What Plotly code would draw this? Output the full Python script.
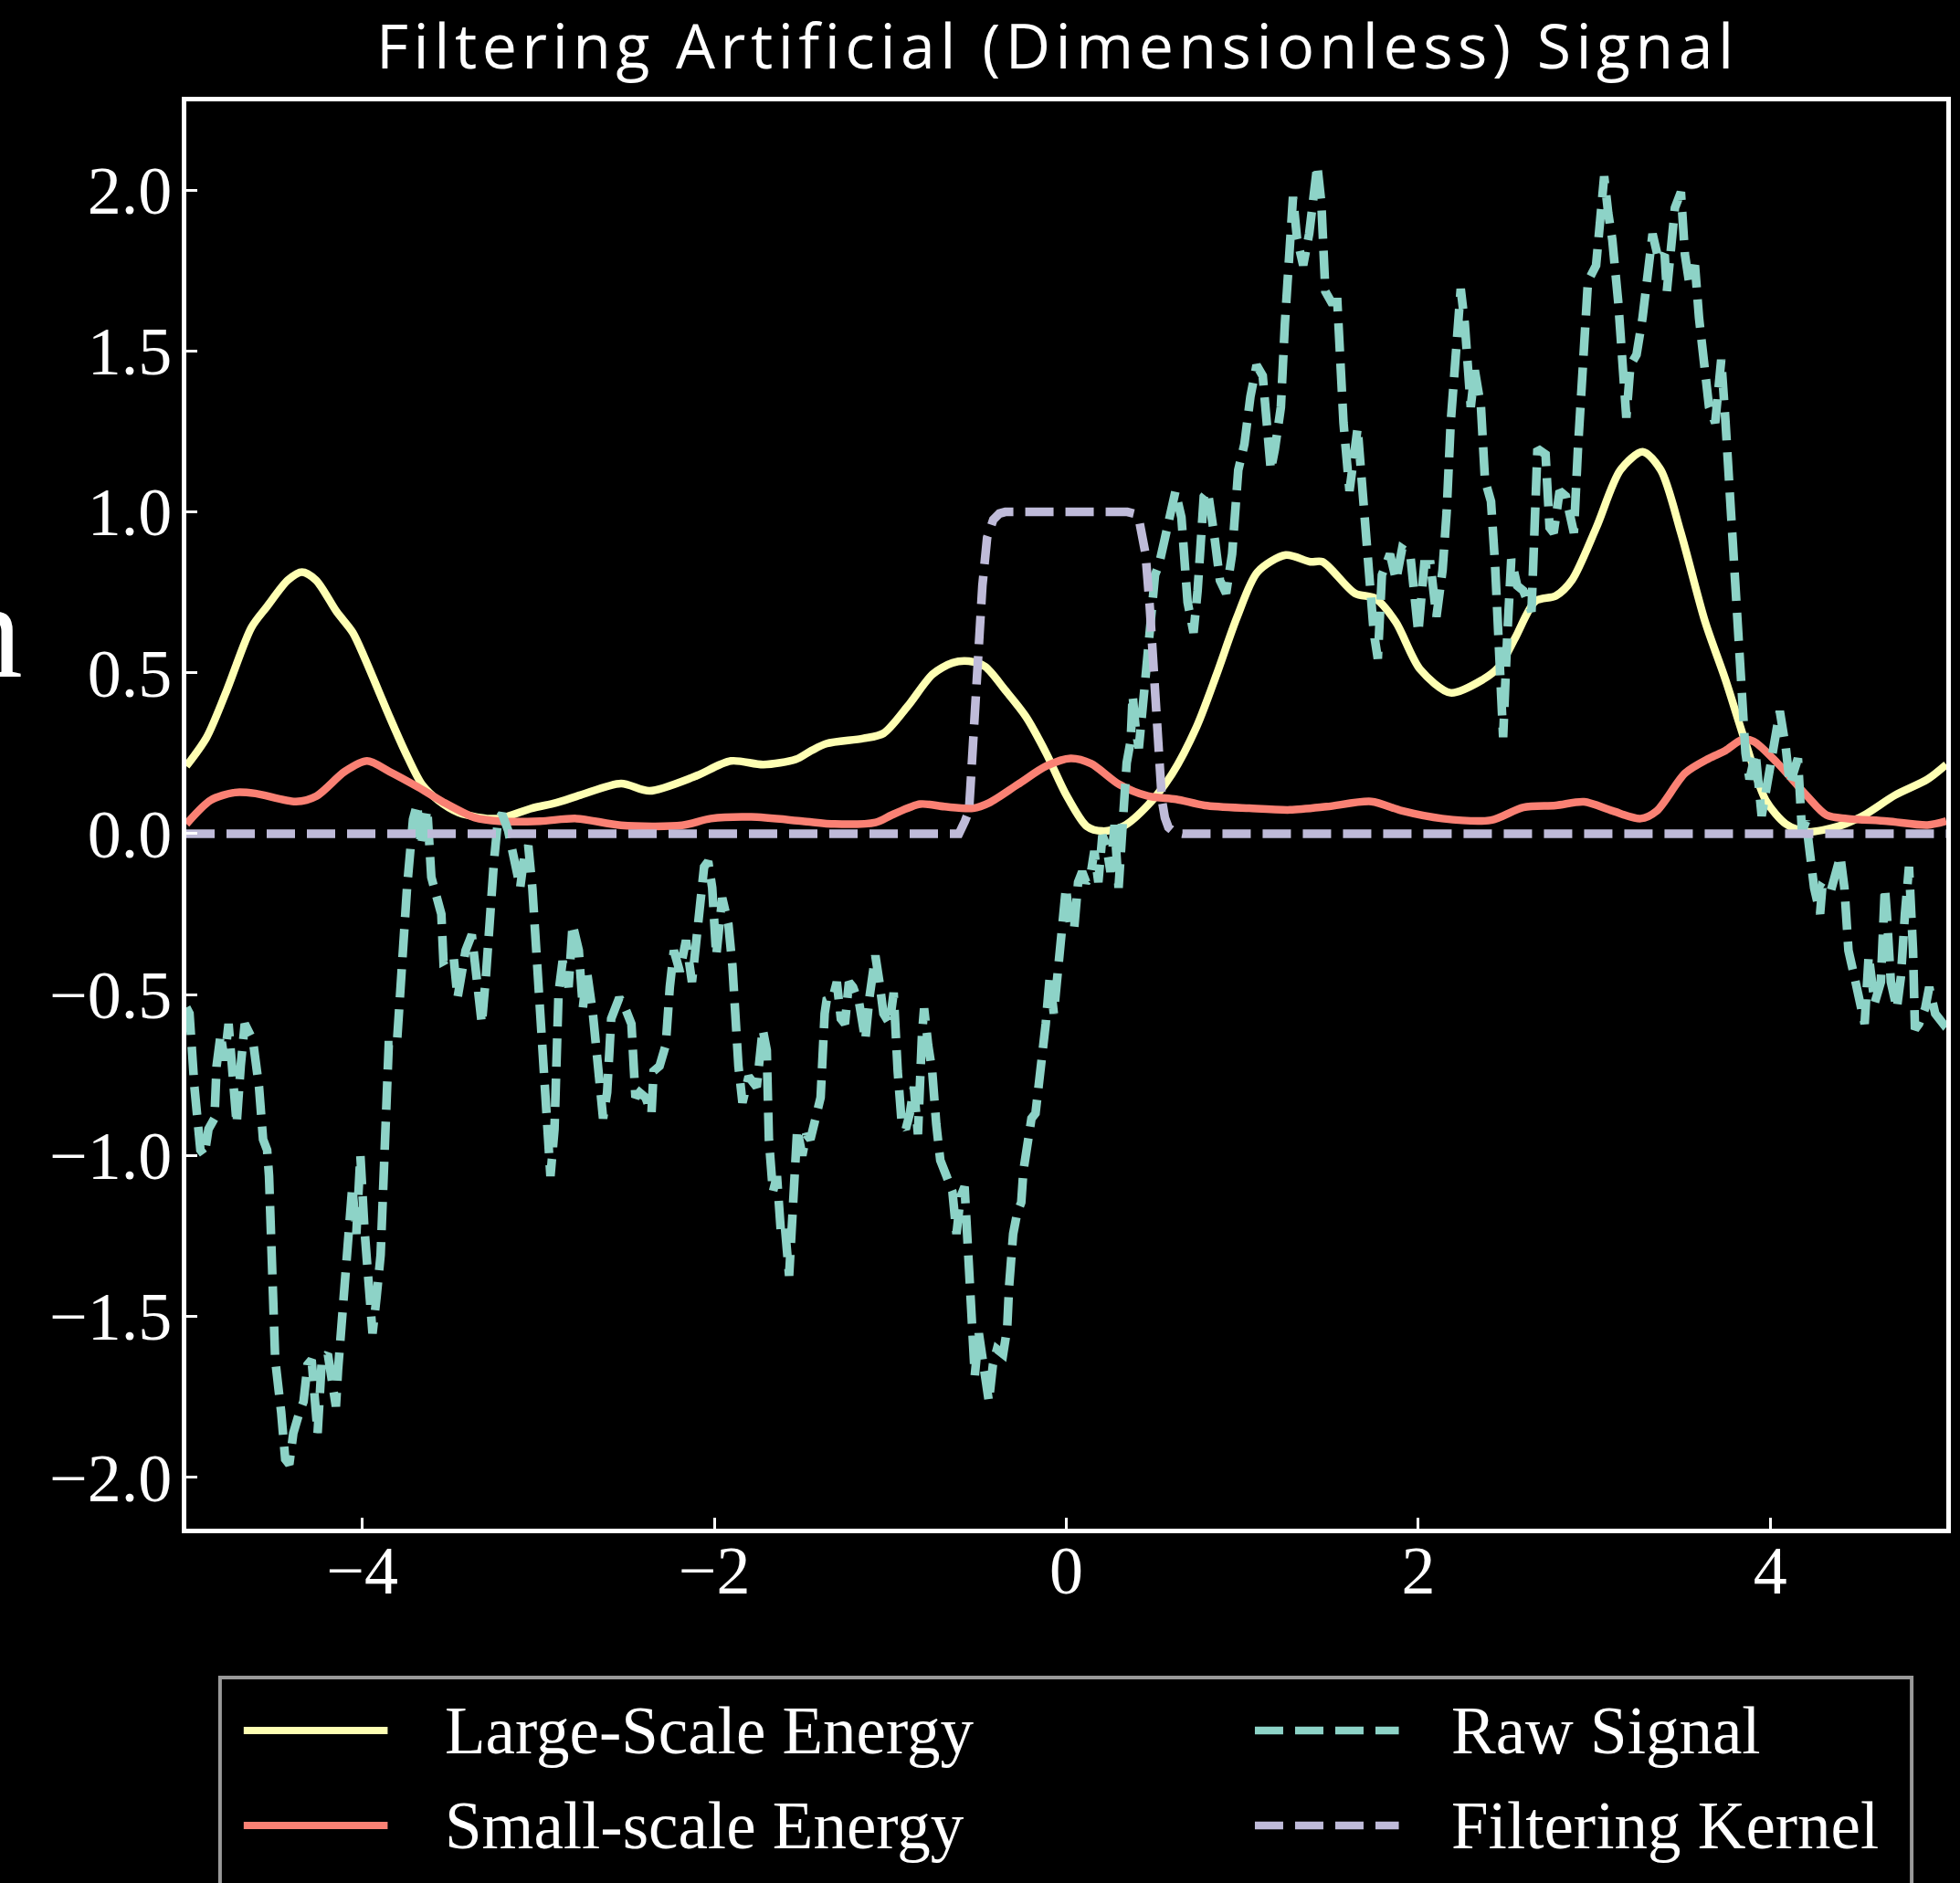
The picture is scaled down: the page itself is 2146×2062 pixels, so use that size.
import plotly.graph_objects as go

# ---- data -------------------------------------------------------------
large_x = [-5.0, -4.885, -4.77, -4.63, -4.54, -4.423, -4.343, -4.263, -4.146, -4.054,
           -3.985, -3.846, -3.753, -3.661, -3.569, -3.453, -3.291, -3.199, -3.037, -2.899,
           -2.76, -2.53, -2.368, -2.114, -1.906, -1.721, -1.537, -1.449, -1.362, -1.154,
           -1.038, -0.90, -0.761, -0.647, -0.553, -0.461, -0.347, -0.23, -0.114, 0.0,
           0.116, 0.207, 0.324, 0.463, 0.60, 0.74, 0.854, 0.971, 1.086, 1.247,
           1.386, 1.456, 1.64, 1.756, 1.872, 2.01, 2.183, 2.367, 2.459, 2.551,
           2.666, 2.781, 2.873, 3.011, 3.148, 3.275, 3.378, 3.492, 3.63, 3.745,
           3.859, 3.974, 4.089, 4.204, 4.387, 4.525, 4.71, 4.893, 5.0]
large_y = [0.21, 0.299, 0.446, 0.641, 0.707, 0.788, 0.813, 0.788, 0.69, 0.625,
           0.544, 0.364, 0.25, 0.153, 0.104, 0.066, 0.047, 0.05, 0.079, 0.096,
           0.12, 0.156, 0.133, 0.177, 0.226, 0.215, 0.231, 0.258, 0.28, 0.296,
           0.312, 0.397, 0.495, 0.531, 0.536, 0.519, 0.446, 0.364, 0.25, 0.12,
           0.023, 0.008, 0.023, 0.088, 0.185, 0.332, 0.495, 0.674, 0.813, 0.866,
           0.845, 0.845, 0.747, 0.731, 0.658, 0.511, 0.438, 0.479, 0.519, 0.609,
           0.723, 0.739, 0.788, 0.951, 1.13, 1.187, 1.13, 0.935, 0.658, 0.479,
           0.283, 0.104, 0.03, 0.006, 0.023, 0.055, 0.12, 0.169, 0.215]

small_x = [-5.0, -4.862, -4.723, -4.608, -4.377, -4.26, -4.10, -3.973, -3.846, -3.684,
           -3.546, -3.36, -3.222, -2.99, -2.783, -2.53, -2.183, -2.02, -1.79, -1.5,
           -1.316, -1.084, -0.992, -0.83, -0.692, -0.53, -0.438, -0.276, -0.114, 0.024,
           0.14, 0.301, 0.463, 0.624, 0.786, 1.04, 1.271, 1.48, 1.733, 1.908,
           2.136, 2.413, 2.597, 2.781, 2.942, 3.103, 3.263, 3.355, 3.516, 3.652,
           3.745, 3.836, 3.905, 4.043, 4.204, 4.319, 4.434, 4.664, 4.893, 5.0]
small_y = [0.03, 0.104, 0.128, 0.125, 0.1, 0.117, 0.193, 0.226, 0.193, 0.145,
           0.1, 0.05, 0.039, 0.039, 0.047, 0.026, 0.026, 0.047, 0.052, 0.039,
           0.03, 0.035, 0.058, 0.092, 0.084, 0.079, 0.096, 0.153, 0.21, 0.234,
           0.218, 0.153, 0.117, 0.107, 0.088, 0.079, 0.074, 0.084, 0.1, 0.071,
           0.047, 0.042, 0.082, 0.088, 0.099, 0.071, 0.047, 0.071, 0.188, 0.234,
           0.258, 0.291, 0.287, 0.218, 0.12, 0.058, 0.047, 0.039, 0.027, 0.039]

raw_x = [-5.0, -4.982, -4.954, -4.92, -4.897, -4.874, -4.84, -4.828, -4.805, -4.783,
         -4.76, -4.737, -4.714, -4.691, -4.668, -4.622, -4.587, -4.564, -4.541, -4.53,
         -4.518, -4.495, -4.461, -4.438, -4.415, -4.392, -4.357, -4.334, -4.311, -4.288,
         -4.254, -4.23, -4.196, -4.15, -4.138, -4.103, -4.08, -4.057, -4.034, -4.011,
         -3.988, -3.965, -3.942, -3.919, -3.896, -3.873, -3.85, -3.804, -3.781, -3.746,
         -3.712, -3.689, -3.666, -3.631, -3.608, -3.574, -3.551, -3.539, -3.482, -3.459,
         -3.413, -3.378, -3.344, -3.321, -3.298, -3.275, -3.252, -3.229, -3.206, -3.172,
         -3.137, -3.103, -3.08, -3.057, -3.034, -3.011, -2.988, -2.965, -2.931, -2.908,
         -2.885, -2.862, -2.828, -2.805, -2.77, -2.747, -2.724, -2.69, -2.655, -2.632,
         -2.609, -2.586, -2.54, -2.506, -2.471, -2.448, -2.425, -2.391, -2.357, -2.345,
         -2.311, -2.276, -2.253, -2.23, -2.196, -2.161, -2.127, -2.104, -2.081, -2.058,
         -2.035, -2.012, -1.989, -1.955, -1.92, -1.897, -1.863, -1.84, -1.805, -1.759,
         -1.725, -1.702, -1.69, -1.667, -1.644, -1.621, -1.598, -1.575, -1.552, -1.529,
         -1.50, -1.477, -1.454, -1.431, -1.396, -1.373, -1.362, -1.327, -1.304, -1.281,
         -1.258, -1.235, -1.212, -1.177, -1.142, -1.119, -1.085, -1.062, -1.039, -1.004,
         -0.981, -0.958, -0.935, -0.912, -0.889, -0.866, -0.843, -0.82, -0.808, -0.785,
         -0.762, -0.739, -0.716, -0.681, -0.647, -0.624, -0.601, -0.578, -0.555, -0.532,
         -0.52, -0.497, -0.474, -0.44, -0.417, -0.394, -0.359, -0.336, -0.325, -0.302,
         -0.279, -0.256, -0.244, -0.221, -0.198, -0.175, -0.14, -0.117, -0.094, -0.071,
         -0.048, -0.025, -0.002, 0.021, 0.044, 0.067, 0.09, 0.113, 0.136, 0.159,
         0.182, 0.205, 0.228, 0.251, 0.274, 0.297, 0.32, 0.343, 0.366, 0.377,
         0.395, 0.412, 0.446, 0.469, 0.504, 0.527, 0.562, 0.585, 0.62, 0.654,
         0.689, 0.723, 0.746, 0.781, 0.804, 0.839, 0.873, 0.908, 0.942, 0.977,
         1.012, 1.046, 1.081, 1.116, 1.139, 1.162, 1.185, 1.219, 1.242, 1.265,
         1.288, 1.311, 1.346, 1.38, 1.403, 1.426, 1.449, 1.472, 1.506, 1.54,
         1.575, 1.609, 1.655, 1.678, 1.701, 1.724, 1.747, 1.77, 1.793, 1.839,
         1.874, 1.908, 1.954, 2.0, 2.034, 2.069, 2.103, 2.138, 2.161, 2.184,
         2.218, 2.241, 2.264, 2.298, 2.321, 2.356, 2.379, 2.413, 2.436, 2.459,
         2.482, 2.505, 2.528, 2.562, 2.597, 2.643, 2.677, 2.723, 2.746, 2.769,
         2.803, 2.838, 2.884, 2.907, 2.941, 2.964, 3.01, 3.044, 3.056, 3.079,
         3.102, 3.136, 3.159, 3.182, 3.205, 3.24, 3.274, 3.308, 3.331, 3.366,
         3.4, 3.412, 3.435, 3.458, 3.492, 3.515, 3.538, 3.572, 3.595, 3.618,
         3.652, 3.687, 3.721, 3.744, 3.767, 3.79, 3.813, 3.836, 3.859, 3.882,
         3.916, 3.951, 3.985, 4.019, 4.054, 4.088, 4.111, 4.157, 4.18, 4.203,
         4.226, 4.249, 4.283, 4.295, 4.341, 4.398, 4.421, 4.444, 4.478, 4.513,
         4.536, 4.559, 4.593, 4.628, 4.651, 4.662, 4.685, 4.719, 4.742, 4.765,
         4.788, 4.811, 4.822, 4.845, 4.88, 4.903, 4.937, 4.983, 5.0]
raw_y = [-0.54, -0.559, -0.787, -0.983, -1.0, -0.918, -0.885, -0.722, -0.624, -0.705,
         -0.591, -0.755, -0.902, -0.722, -0.591, -0.641, -0.787, -0.95, -0.983, -1.064,
         -1.309, -1.635, -1.798, -1.944, -1.96, -1.863, -1.798, -1.765, -1.65, -1.635,
         -1.863, -1.635, -1.617, -1.78, -1.667, -1.39, -1.26, -1.097, -1.244, -1.0,
         -1.227, -1.44, -1.553, -1.44, -1.309, -0.983, -0.657, -0.657, -0.412, -0.168,
         0.044, 0.092, -0.038, 0.076, -0.135, -0.217, -0.25, -0.396, -0.379, -0.51,
         -0.363, -0.314, -0.494, -0.591, -0.445, -0.233, -0.086, 0.044, 0.061, 0.011,
         -0.086, -0.168, -0.07, -0.038, -0.168, -0.363, -0.657, -0.853, -1.064, -0.918,
         -0.494, -0.396, -0.477, -0.282, -0.363, -0.543, -0.428, -0.559, -0.722, -0.885,
         -0.804, -0.575, -0.51, -0.543, -0.591, -0.82, -0.804, -0.82, -0.869, -0.738,
         -0.722, -0.657, -0.477, -0.363, -0.428, -0.331, -0.461, -0.331, -0.217, -0.103,
         -0.086, -0.168, -0.379, -0.2, -0.282, -0.412, -0.722, -0.836, -0.755, -0.787,
         -0.608, -0.673, -0.95, -1.113, -1.064, -1.244, -1.227, -1.374, -1.146, -0.918,
         -1.0, -0.934, -0.95, -0.885, -0.82, -0.559, -0.518, -0.51, -0.461, -0.575,
         -0.591, -0.461, -0.477, -0.526, -0.641, -0.51, -0.379, -0.461, -0.559, -0.591,
         -0.494, -0.738, -0.902, -0.918, -0.869, -0.787, -0.934, -0.624, -0.543, -0.657,
         -0.738, -0.902, -1.015, -1.064, -1.113, -1.244, -1.129, -1.097, -1.309, -1.52,
         -1.684, -1.553, -1.635, -1.765, -1.65, -1.602, -1.617, -1.537, -1.406, -1.244,
         -1.178, -1.146, -1.048, -0.983, -0.885, -0.869, -0.722, -0.591, -0.445, -0.559,
         -0.428, -0.298, -0.168, -0.282, -0.298, -0.151, -0.119, -0.151, -0.135, -0.054,
         -0.151, -0.005, -0.038, -0.119, 0.027, -0.168, 0.027, 0.22, 0.29, 0.43,
         0.32, 0.266, 0.462, 0.625, 0.804, 0.837, 0.918, 1.0, 1.064, 0.983,
         0.72, 0.625, 0.755, 1.048, 1.064, 0.934, 0.787, 0.747, 0.869, 1.13,
         1.211, 1.358, 1.456, 1.423, 1.26, 1.13, 1.195, 1.325, 1.586, 1.8,
         1.979, 1.849, 1.767, 1.865, 1.979, 2.077, 1.961, 1.685, 1.652, 1.652,
         1.277, 1.065, 1.261, 1.098, 1.0, 0.788, 0.625, 0.544, 0.804, 0.869,
         0.788, 0.886, 0.869, 0.625, 0.837, 0.837, 0.674, 0.82, 0.999, 1.277,
         1.522, 1.693, 1.587, 1.326, 1.44, 1.326, 1.098, 1.033, 0.837, 0.609,
         0.3, 0.609, 0.853, 0.771, 0.755, 0.69, 1.196, 1.179, 0.951, 0.935,
         1.065, 1.049, 0.935, 1.196, 1.554, 1.717, 1.766, 1.929, 2.043, 1.929,
         1.847, 1.652, 1.489, 1.293, 1.456, 1.489, 1.603, 1.799, 1.864, 1.782,
         1.799, 1.685, 1.831, 1.945, 1.994, 1.799, 1.717, 1.766, 1.603, 1.473,
         1.326, 1.277, 1.473, 1.293, 1.065, 0.902, 0.625, 0.381, 0.251, 0.169,
         0.251, 0.055, 0.169, 0.3, 0.381, 0.267, 0.153, 0.234, 0.006, 0.039,
         -0.054, -0.168, -0.249, -0.168, -0.184, -0.07, -0.168, -0.363, -0.445, -0.543,
         -0.591, -0.379, -0.526, -0.461, -0.168, -0.249, -0.461, -0.543, -0.445, -0.249,
         -0.103, -0.363, -0.608, -0.591, -0.543, -0.477, -0.559, -0.591, -0.58]

kernel_x = [-5.0, -0.65, -0.61, -0.576, -0.553, -0.542, -0.53, -0.502, -0.477, -0.45,
            -0.415, -0.38, -0.347, 0.347, 0.385, 0.416, 0.45, 0.474, 0.497, 0.52,
            0.543, 0.56, 0.58, 0.61, 0.66, 5.0]
kernel_y = [0.0, 0.0, 0.0, 0.039, 0.071, 0.169, 0.30, 0.54, 0.77, 0.92,
            0.976, 0.995, 1.0, 1.0, 0.995, 0.968, 0.87, 0.707, 0.495, 0.284,
            0.105, 0.05, 0.02, 0.006, 0.0, 0.0]

x_ticks = [-4, -2, 0, 2, 4]
y_ticks = [-2.0, -1.5, -1.0, -0.5, 0.0, 0.5, 1.0, 1.5, 2.0]

series_names = ["Large-Scale Energy", "Small-scale Energy", "Raw Signal", "Filtering Kernel"]
series_colors = ["#feffb3", "#fa8174", "#8dd3c7", "#bfbbd9"]
series_dashed = [False, False, True, True]

TITLE = "Filtering Artificial (Dimensionless) Signal"

# ---- layout geometry (pixels) -----------------------------------------
W, H = 2146, 2062
ML, MR, MT, MB = 204, 10, 111, 388
PW = W - ML - MR
PH = H - MT - MB

SERIF = "Liberation Serif, Times New Roman, serif"
DASH = "31px,13px"
LW_SOLID = 8.5
LW_DASH = 9.5


def px_x(p):
    """Pixel column -> paper x."""
    return (p - ML) / PW


def px_y(p):
    """Pixel row (from top) -> paper y."""
    return (H - MB - p) / PH


fig = go.Figure()

datasets = [(large_x, large_y), (small_x, small_y), (raw_x, raw_y), (kernel_x, kernel_y)]
for (xs, ys), name, col, dashed in zip(datasets, series_names, series_colors, series_dashed):
    smooth = name in ("Large-Scale Energy", "Small-scale Energy")
    fig.add_trace(go.Scatter(
        x=xs, y=ys, mode="lines", name=name, showlegend=False,
        line=dict(color=col, width=LW_DASH if dashed else LW_SOLID,
                  dash=DASH if dashed else "solid",
                  shape="spline" if smooth else "linear",
                  smoothing=0.8 if smooth else None),
    ))

# ---- legend box drawn below the axes ----------------------------------
shapes = [dict(type="rect", xref="paper", yref="paper",
               x0=px_x(241), x1=px_x(2098), y0=px_y(2080), y1=px_y(1837),
               line=dict(color="#999999", width=4), fillcolor="rgba(0,0,0,0)",
               layer="above")]
annotations = []
legend_slots = [(267, 1895, 486), (267, 1999, 486), (1377, 1895, 1591), (1377, 1999, 1591)]
for (sx, sy, tx), name, col, dashed in zip(legend_slots, series_names, series_colors, series_dashed):
    shapes.append(dict(type="line", xref="paper", yref="paper",
                       x0=px_x(sx), x1=px_x(sx + 158), y0=px_y(sy), y1=px_y(sy),
                       line=dict(color=col, width=8.5 if dashed else 8,
                                 dash=DASH if dashed else "solid"),
                       layer="above"))
    annotations.append(dict(text=name, xref="paper", yref="paper",
                            x=px_x(tx), y=px_y(sy), xanchor="left", yanchor="middle",
                            showarrow=False, font=dict(family=SERIF, size=73, color="white")))

# y-axis label, set far to the left of the tick labels
annotations.append(dict(text="Spectrum", xref="paper", yref="paper",
                        x=px_x(27), y=px_y(775), xanchor="right", yanchor="bottom",
                        showarrow=False, font=dict(family=SERIF, size=150, color="white")))

axis_common = dict(
    showgrid=False, zeroline=False, showline=True, linecolor="white", linewidth=5,
    mirror=True, ticks="inside", ticklen=12, tickwidth=3, tickcolor="white",
    tickfont=dict(family=SERIF, size=74, color="white"),
)

fig.update_layout(
    width=W, height=H,
    margin=dict(l=ML, r=MR, t=MT, b=MB, pad=0),
    paper_bgcolor="black", plot_bgcolor="black",
    title=dict(text='<span style="letter-spacing:5.5px">' + TITLE + "</span>",
               font=dict(family="Open Sans, Noto Sans, sans-serif", size=68, color="white"),
               x=0.495, xref="paper", xanchor="center",
               y=1 - 51 / H, yref="container", yanchor="middle"),
    xaxis=dict(range=[-5, 5], tickvals=x_ticks, ticklabelstandoff=-23, **axis_common),
    yaxis=dict(range=[-2.16, 2.276], tickvals=y_ticks, tickformat=".1f",
               ticklabelstandoff=-4, **axis_common),
    shapes=shapes,
    annotations=annotations,
    showlegend=False,
)

fig.write_html("out.html")
